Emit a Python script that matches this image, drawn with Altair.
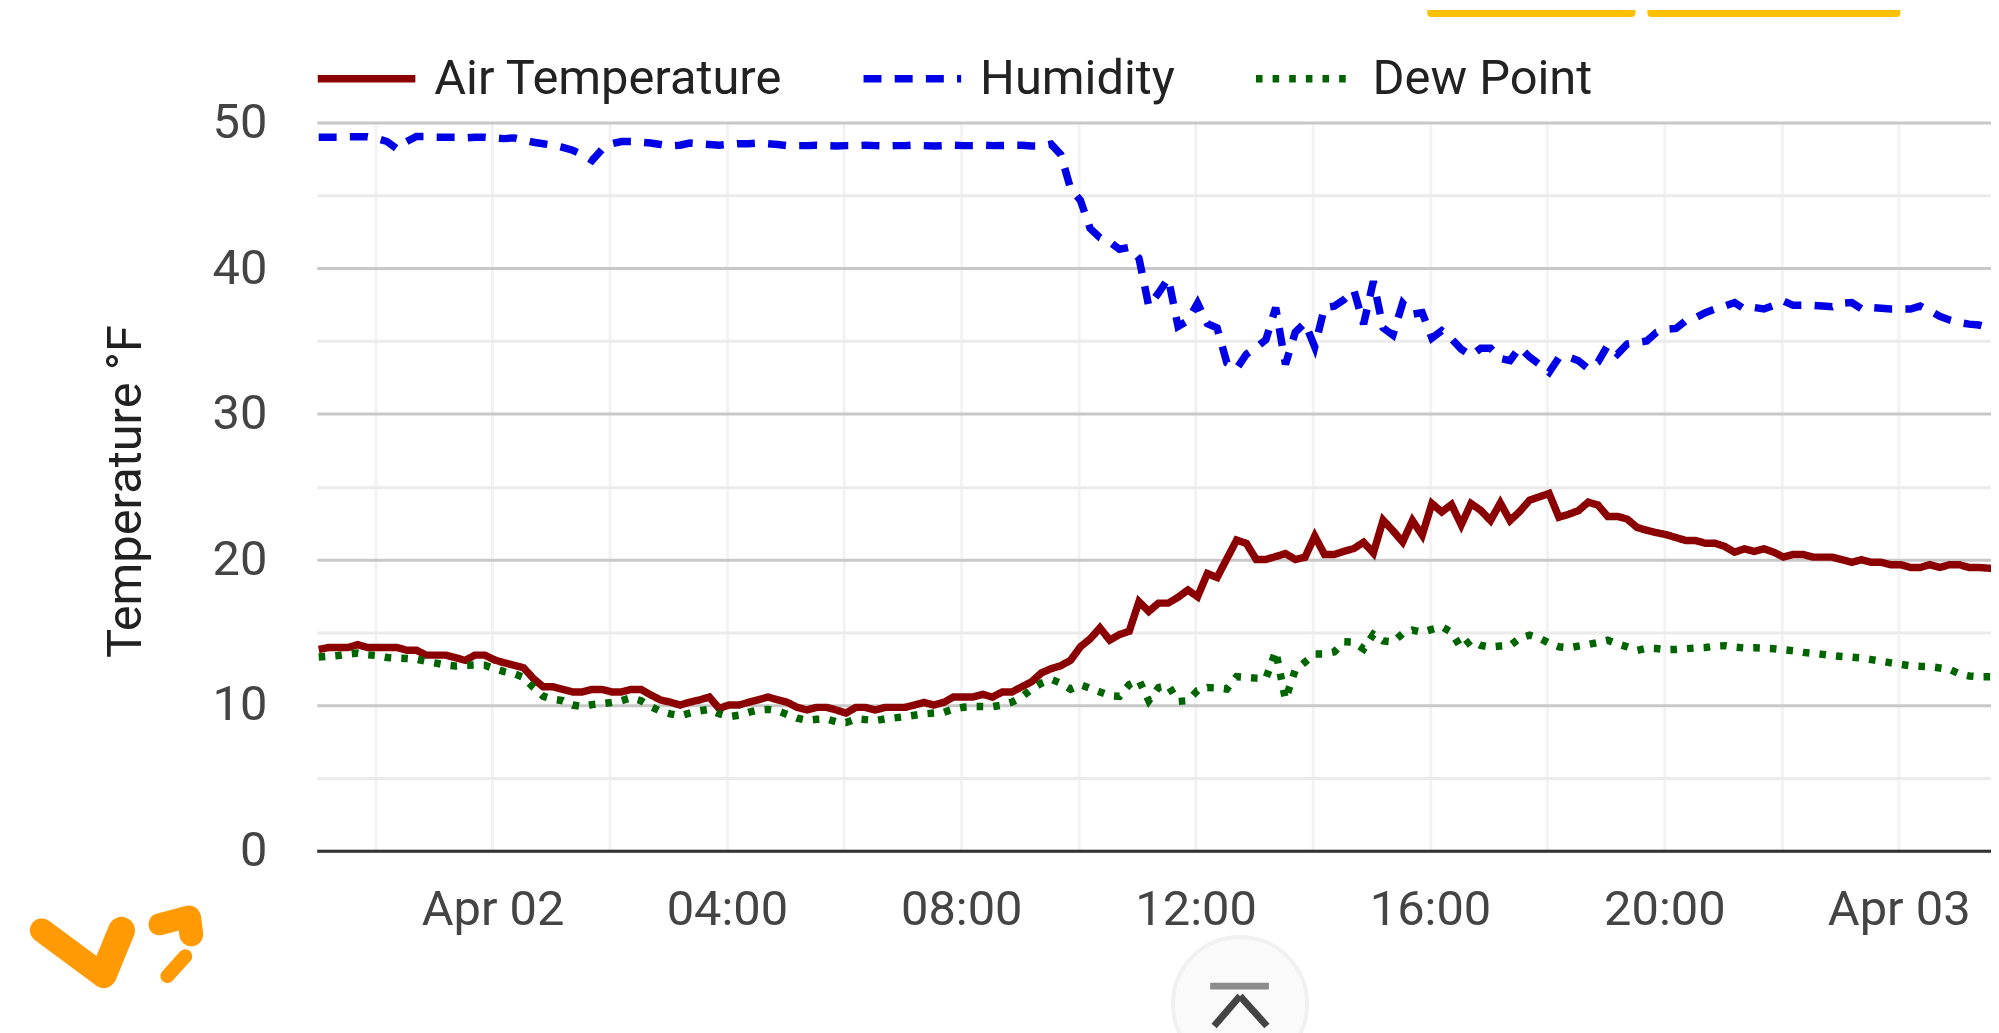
import altair as alt
import pandas as pd

AIR = [13.82,13.95,13.95,13.95,14.15,13.95,13.95,13.95,13.95,13.77,
13.77,13.43,13.43,13.43,13.25,13.07,13.43,13.43,13.1,12.9,
12.73,12.55,11.8,11.25,11.25,11.07,10.9,10.9,11.07,11.07,
10.9,10.9,11.07,11.07,10.7,10.35,10.2,10.0,10.2,10.35,
10.55,9.77,10.0,10.0,10.18,10.36,10.55,10.36,10.18,9.84,
9.66,9.84,9.84,9.66,9.45,9.84,9.84,9.66,9.84,9.84,
9.84,10.0,10.18,10.0,10.18,10.55,10.55,10.55,10.73,10.55,
10.9,10.9,11.25,11.6,12.2,12.5,12.7,13.08,14.0,14.55,
15.3,14.46,14.84,15.07,17.1,16.43,17.0,17.0,17.4,17.9,
17.44,19.03,18.76,20.05,21.33,21.1,20.0,20.0,20.2,20.4,
20.0,20.15,21.6,20.34,20.34,20.56,20.75,21.18,20.44,22.7,
21.98,21.2,22.67,21.67,23.84,23.26,23.77,22.37,23.84,23.37,
22.67,23.88,22.67,23.3,24.07,24.3,24.53,22.9,23.1,23.35,
23.93,23.74,22.95,22.95,22.77,22.2,22.0,21.84,21.7,21.5,
21.3,21.3,21.11,21.11,20.89,20.5,20.73,20.55,20.73,20.5,
20.16,20.34,20.34,20.16,20.16,20.16,19.98,19.8,19.98,19.8,
19.8,19.64,19.64,19.45,19.45,19.64,19.45,19.64,19.64,19.45,
19.45,19.4,19.4]

HUMIDITY = [49.0,49.0,49.0,49.03,49.03,49.03,48.9,48.7,48.2,48.7,
49.05,49.05,49.0,49.0,49.0,48.95,49.0,49.0,48.95,48.9,
48.95,48.8,48.65,48.55,48.45,48.3,48.1,47.8,47.4,48.15,
48.55,48.7,48.7,48.65,48.6,48.5,48.4,48.45,48.6,48.55,
48.5,48.45,48.5,48.55,48.55,48.6,48.55,48.5,48.42,48.42,
48.42,48.45,48.42,48.4,48.42,48.42,48.45,48.42,48.4,48.42,
48.42,48.45,48.42,48.4,48.42,48.45,48.42,48.42,48.45,48.42,
48.43,48.45,48.45,48.4,48.4,48.52,47.8,45.45,44.66,42.73,
42.1,41.8,41.3,41.43,40.68,37.4,38.3,39.3,36.0,36.4,
37.6,36.2,35.9,33.5,33.1,34.1,34.55,35.1,37.3,33.4,
35.6,36.25,34.6,37.3,37.4,37.85,38.5,36.16,39.1,35.9,
35.4,37.6,36.84,36.95,35.2,35.7,35.15,34.45,34.0,34.5,
34.5,33.8,33.66,34.57,33.9,33.4,32.85,33.86,33.9,33.65,
33.1,33.55,34.7,34.1,34.8,34.9,35.0,35.6,35.8,35.86,
36.4,36.6,36.95,37.2,37.4,37.64,37.2,37.3,37.2,37.45,
37.75,37.45,37.45,37.45,37.4,37.36,37.6,37.64,37.2,37.3,
37.25,37.2,37.2,37.2,37.4,37.07,36.7,36.45,36.27,36.16,
36.1,35.93,35.9]

DEW = [13.3,13.35,13.4,13.5,13.57,13.45,13.4,13.27,13.22,13.2,
13.15,13.0,12.88,12.75,12.68,12.72,12.75,12.73,12.5,12.3,
12.15,11.9,11.2,10.6,10.4,10.3,10.0,9.9,10.03,10.1,
10.18,10.3,10.5,10.3,9.9,9.57,9.4,9.27,9.45,9.6,
9.7,9.4,9.2,9.3,9.5,9.66,9.7,9.6,9.35,9.1,
8.95,9.02,9.05,8.85,8.8,9.05,9.0,8.93,9.05,9.12,
9.2,9.3,9.39,9.45,9.5,9.72,9.85,9.9,9.9,9.89,
10.0,10.2,10.55,11.1,11.5,11.77,11.5,11.09,11.39,11.15,
10.9,10.65,10.6,11.4,11.7,10.3,11.2,11.35,10.25,10.3,
11.0,11.2,11.17,11.1,11.95,11.9,11.85,11.83,13.7,10.4,
12.4,12.95,13.5,13.5,13.65,14.35,14.33,13.85,14.85,14.4,
14.33,14.9,15.15,15.0,15.2,15.38,15.0,13.9,14.45,14.1,
13.98,14.05,14.08,14.6,14.8,14.6,14.25,14.0,13.93,14.05,
14.16,14.3,14.45,14.2,14.0,13.75,13.9,13.88,13.8,13.82,
13.87,13.92,13.95,14.05,14.08,13.98,13.92,13.93,13.9,13.87,
13.8,13.73,13.62,13.55,13.48,13.4,13.33,13.28,13.23,13.12,
13.02,12.9,12.8,12.7,12.66,12.64,12.55,12.45,12.15,12.0,
11.95,11.95,11.95]

SERIES = ["Air Temperature", "Humidity", "Dew Point"]
COLORS = ["#8b0000", "#0000e6", "#006400"]
DASHES = [[1, 0], [18, 13.3], [6.6, 10.1]]
FONT = "Roboto"
FS = 49
SW = 7.5

times = pd.date_range("2021-04-01 21:02", periods=len(AIR), freq="10min")
stamps = times.strftime("%Y-%m-%dT%H:%M:00Z")
rows = []
for name, vals in zip(SERIES, [AIR, HUMIDITY, DEW]):
    rows += [{"time": t, "value": v, "series": name} for t, v in zip(stamps, vals)]
df = pd.DataFrame(rows)

def dt(d, h, m=0, s=0):
    return alt.DateTime(year=2021, month=4, date=d, hours=h, minutes=m, seconds=s, utc=True)

tick_times = [dt(1, 22)] + [dt(2, h) for h in range(0, 24, 2)] + [dt(3, 0)]

x_axis = alt.Axis(
    title=None, values=tick_times, ticks=False,
    domain=True, domainColor="#333333", domainWidth=3,
    grid=True, gridColor="#f3f3f3", gridWidth=3,
    labelFont=FONT, labelFontSize=FS, labelColor="#444444",
    labelPadding=35, labelOverlap=False, labelFlush=False, labelBound=False,
    labelExpr="utchours(datum.value)%4!=0?'':(utchours(datum.value)==0?utcFormat(datum.value,'%b %d'):utcFormat(datum.value,'%H:%M'))",
)
y_axis = alt.Axis(
    title="Temperature °F", values=list(range(0, 55, 5)), ticks=False, domain=False,
    grid=True, gridWidth=3,
    gridColor={"condition": {"test": "datum.value % 10 == 0", "value": "#c8c8c8"}, "value": "#ebebeb"},
    labelFont=FONT, labelFontSize=FS, labelColor="#444444", labelPadding=50,
    labelExpr="datum.value % 10 == 0 ? datum.label : ''", labelBound=False, labelFlush=False,
    titleFont=FONT, titleFontSize=FS, titleFontWeight="normal", titleColor="#212121",
    titleX=-167, titleY=370, titleAngle=270, titleAlign="center",
)

lines = alt.Chart(df).mark_line(strokeWidth=SW, clip=True).encode(
    x=alt.X("time:T", axis=x_axis,
            scale=alt.Scale(type="utc", domain=[dt(1, 21), dt(3, 1, 34, 30)])),
    y=alt.Y("value:Q", axis=y_axis, scale=alt.Scale(domain=[0, 50], nice=False)),
    color=alt.Color("series:N", scale=alt.Scale(domain=SERIES, range=COLORS),
        legend=alt.Legend(
            title=None, orient="none", legendX=-3, legendY=-97, direction="horizontal",
            columns=3, columnPadding=66, padding=0,
            symbolType="stroke", symbolSize=9604, symbolStrokeWidth=SW, labelOffset=15,
            labelFont=FONT, labelFontSize=FS, labelColor="#222222", labelLimit=600,
        )),
    strokeDash=alt.StrokeDash("series:N", scale=alt.Scale(domain=SERIES, range=DASHES), legend=None),
)

one = pd.DataFrame({"a": [0]})
OX, OY = 318, 121

def seg(x1, y1, x2, y2, color, width, cap="round"):
    return alt.Chart(one).mark_rule(color=color, strokeWidth=width, strokeCap=cap).encode(
        x=alt.value(x1 - OX), x2=alt.value(x2 - OX), y=alt.value(y1 - OY), y2=alt.value(y2 - OY))

def button(x1, x2):
    return alt.Chart(one).mark_rect(color="#ffc107", cornerRadiusBottomLeft=7, cornerRadiusBottomRight=7).encode(
        x=alt.value(x1 - OX), x2=alt.value(x2 - OX), y=alt.value(8 - OY), y2=alt.value(15 - OY))

ORANGE = "#ff9a05"
decor = [
    button(1433, 1642), button(1654, 1908),
    seg(42, 932, 104, 978, ORANGE, 24),
    seg(104, 976, 122, 932, ORANGE, 27),
    seg(160, 926, 190, 918, ORANGE, 22),
    seg(190, 920, 192, 936, ORANGE, 24),
    seg(186, 958, 168, 978, ORANGE, 14),
    alt.Chart(one).mark_circle(color="#fafafa", opacity=1, stroke="#f1f1f1", strokeWidth=4).encode(
        x=alt.value(1245 - OX), y=alt.value(1006 - OY), size=alt.value(18146)),
    seg(1215, 988, 1274, 988, "#8c8c8c", 7, "butt"),
    seg(1219, 1028, 1245, 998, "#444444", 7, "butt"),
    seg(1245, 998, 1272, 1028, "#444444", 7, "butt"),
]

chart = alt.layer(lines, *decor).properties(
    width=1991, height=1025,
    padding={"left": 310, "top": 113, "right": 0, "bottom": 181},
    autosize=alt.AutoSizeParams(type="none", contains="padding"),
    background="white",
).configure_view(stroke=None)

chart.save("out.html", embed_options={"renderer": "svg", "actions": False})
